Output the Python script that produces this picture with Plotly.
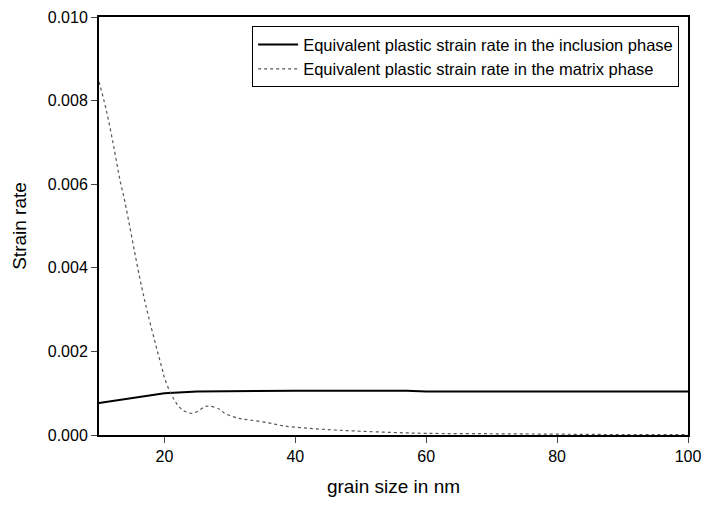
import plotly.graph_objects as go

grain_inclusion = [10, 15, 20, 25, 30, 40, 50, 57, 60, 70, 80, 90, 100]
rate_inclusion = [0.000766, 0.00088, 0.00100, 0.00104, 0.00105, 0.00106, 0.00106, 0.00106, 0.00104, 0.00104, 0.00104, 0.00104, 0.00104]

grain_matrix = [10.0, 11.1, 12.2, 13.2, 13.9, 16.2, 17.4, 18.7, 19.7, 20.1, 21.5, 22.6, 24.0, 24.9,
                26.2, 27.0, 28.6, 29.2, 31.3, 33.0, 35.9, 38.1, 42, 46, 50, 55, 60, 70, 80, 90, 100]
rate_matrix = [0.00845, 0.00778, 0.00694, 0.0061, 0.00562, 0.00378, 0.00294, 0.00214, 0.00155, 0.00132,
               0.00084, 0.00062, 0.00052, 0.00055, 0.00068, 0.00069, 0.0006, 0.00052, 0.0004, 0.00036,
               0.00029, 0.00022, 0.00016, 0.00012, 0.00009, 0.00006, 0.00004, 0.00003, 0.00002, 0.00001, 0.00001]

fig = go.Figure()
fig.add_trace(go.Scatter(x=grain_inclusion, y=rate_inclusion, mode="lines",
                         name="Equivalent plastic strain rate in the inclusion phase",
                         line=dict(color="black", width=2)))
fig.add_trace(go.Scatter(x=grain_matrix, y=rate_matrix, mode="lines", line_shape="spline",
                         name="Equivalent plastic strain rate in the matrix phase",
                         line=dict(color="#555555", width=1.2, dash="dot")))

fig.update_layout(
    width=695, height=489,
    margin=dict(l=91, r=15, t=9, b=62),
    paper_bgcolor="white", plot_bgcolor="white",
    font=dict(family="Liberation Sans, Arial, sans-serif", color="black", size=16),
    legend=dict(x=0.26, y=0.978, xanchor="left", yanchor="top",
                bordercolor="black", borderwidth=1, bgcolor="white",
                font=dict(size=16.5), tracegroupgap=0, itemwidth=40),
    xaxis=dict(range=[10, 100], tickvals=[20, 40, 60, 80, 100], ticks="outside", ticklen=6,
               showline=True, linecolor="black", linewidth=2, mirror=True, showgrid=False,
               zeroline=False, automargin=False,
               title=dict(text="grain size in nm", standoff=26)),
    yaxis=dict(range=[0, 0.010], tickvals=[0, 0.002, 0.004, 0.006, 0.008, 0.010],
               tickformat=".3f", ticks="outside", ticklen=6,
               showline=True, linecolor="black", linewidth=2, mirror=True, showgrid=False,
               zeroline=False, automargin=False,
               title=dict(text="Strain rate", standoff=16)),
)

fig.write_html("out.html")
